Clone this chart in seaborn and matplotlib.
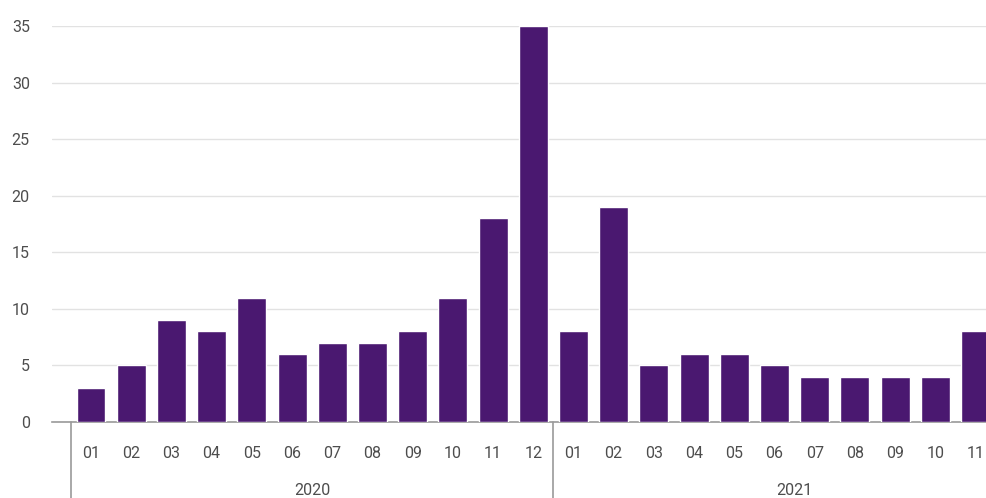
import matplotlib
matplotlib.use("Agg")
import matplotlib.pyplot as plt
import matplotlib.transforms as mtransforms
import seaborn as sns
import pandas as pd

months = ["01", "02", "03", "04", "05", "06", "07", "08", "09", "10", "11", "12",
          "01", "02", "03", "04", "05", "06", "07", "08", "09", "10", "11"]
years = ["2020"] * 12 + ["2021"] * 11
values = [3, 5, 9, 8, 11, 6, 7, 7, 8, 11, 18, 35,
          8, 19, 5, 6, 6, 5, 4, 4, 4, 4, 8]
year_labels = ["2020", "2021"]
y_ticks = [0, 5, 10, 15, 20, 25, 30, 35]

sns.set_theme(style="white")
plt.rcParams["font.family"] = ["Roboto", "DejaVu Sans"]

df = pd.DataFrame({"key": [f"{y}-{m}" for y, m in zip(years, months)],
                   "value": values})

W, H = 986, 498
FS = 11.5
TC = "#4d4d4d"
fig = plt.figure(figsize=(W / 100, H / 100), dpi=100)
ax = fig.add_axes([52 / W, 76 / H, (986 - 52) / W, 396 / H])

sns.barplot(data=df, x="key", y="value", order=list(df["key"]), color="#4a1870",
            saturation=1, width=0.72, ax=ax, zorder=3)

ax.set_xlim(-0.97, 22.26)
ax.set_ylim(0, 35)
ax.set_yticks(y_ticks)
ax.set_yticklabels([str(t) for t in y_ticks], fontsize=FS, color=TC)
ax.yaxis.grid(True, color="#e2e2e2", linewidth=1, zorder=0)
ax.set_axisbelow(True)
for s in ["top", "right", "left"]:
    ax.spines[s].set_visible(False)
ax.spines["bottom"].set_color("#9a9a9a")
ax.spines["bottom"].set_linewidth(1.2)
ax.tick_params(axis="y", length=0, pad=16)
ax.tick_params(axis="x", length=0, pad=23)
ax.set_xticks(range(len(months)))
ax.set_xticklabels(months, fontsize=FS, color=TC)
for lbl in ax.get_xticklabels():
    lbl.set_verticalalignment("center")
ax.set_xlabel("")
ax.set_ylabel("")

trans = mtransforms.blended_transform_factory(ax.transData, fig.transFigure)
n_by_year = [years.count(y) for y in year_labels]
start = 0
bounds = [-0.5]
for n in n_by_year:
    start += n
    bounds.append(start - 0.5)
for b in bounds[:-1]:
    ax.plot([b, b], [76 / H, 0], transform=trans, color="#9a9a9a",
            linewidth=1.2, clip_on=False)
start = 0
for y, n in zip(year_labels, n_by_year):
    center = start + (n - 1) / 2
    cx = center if n == 12 else start + 5.5
    ax.text(cx, 8 / H, y, transform=trans, ha="center", va="center",
            fontsize=FS, color=TC)
    start += n

fig.savefig("out.png", dpi=100)
